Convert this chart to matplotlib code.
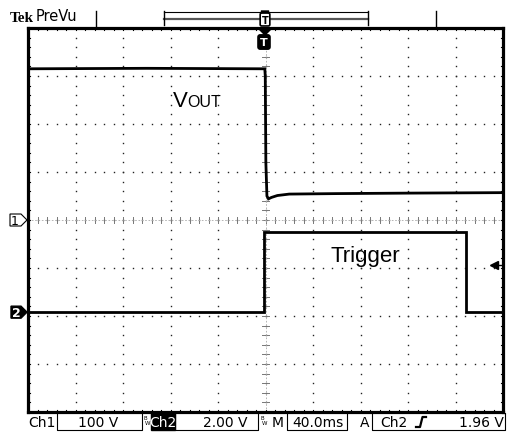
import matplotlib.pyplot as plt
from matplotlib.patches import Polygon, Rectangle
import numpy as np

# Kanał 1 - V_OUT (ms, V)
t_vout = [-200, -100, -0.6, -0.2, 0.3, 1.2, 2.5, 5, 10, 20, 60, 120, 200]
u_vout = [315, 316, 315, 300, 120, 50, 44, 47, 51, 54, 55, 56, 57]

# Kanał 2 - Trigger (ms, V)
t_trig = [-200, -1.2, -1.2, 169, 169, 200]
u_trig = [0, 0, 3.34, 3.34, 0, 0]

# Ustawienia oscyloskopu
ms_div = 40.0
ch1_vdiv, ch1_off = 100.0, 0.0
ch2_vdiv, ch2_off = 2.0, -1.92
trig_lvl = 1.96

# Piksele na działkę (środek ekranu 265.5, 221)
X0, Y0, DX, DY = 265.5, 221.0, 47.5, 48.0


def px(xd, yd):
    return X0 + xd * DX, Y0 - yd * DY


fig = plt.figure(figsize=(5.07, 4.39), dpi=100)
ax = fig.add_axes([28 / 507, 26 / 439, 475 / 507, 384 / 439])
ax.set_xlim(-5, 5)
ax.set_ylim(-4, 4)
ax.set_xticks([])
ax.set_yticks([])
for s in ax.spines.values():
    s.set_linewidth(2.3)

# Siatka z kropek
mx = np.arange(-5, 5.001, 0.2)
my = np.arange(-4, 4.001, 0.2)
for yy in range(-3, 4):
    ax.plot(mx, np.full(len(mx), yy), ls='none', marker='s', ms=1.0, mew=0, color='#222')
for xx in range(-4, 5):
    ax.plot(np.full(len(my), xx), my, ls='none', marker='s', ms=1.0, mew=0, color='#222')

# Osie środkowe z podziałką
for x in mx:
    ax.plot([x, x], [-0.06, 0.06], color='#777', lw=0.7)
    ax.plot([x, x], [-4, -3.95], color='k', lw=0.8)
    ax.plot([x, x], [4, 3.95], color='k', lw=0.8)
for y in my:
    ax.plot([-0.065, 0.065], [y, y], color='#777', lw=0.7)
    ax.plot([-5, -4.95], [y, y], color='k', lw=0.8)
    ax.plot([5, 4.95], [y, y], color='k', lw=0.8)
ax.plot([-5, 5], [0, 0], color='#aaa', lw=0.6, ls=(0, (2, 2)))
ax.plot([0, 0], [-4, 4], color='#aaa', lw=0.6, ls=(0, (2, 2)))

# Przebiegi
x1 = np.array(t_vout) / ms_div
y1 = np.array(u_vout) / ch1_vdiv + ch1_off
x2 = np.array(t_trig) / ms_div
y2 = np.array(u_trig) / ch2_vdiv + ch2_off
ax.plot(x1, y1, color='k', lw=2.0, solid_joinstyle='miter')
ax.plot(x2, y2, color='k', lw=2.0, solid_joinstyle='miter')

# Poziom wyzwalania
lvl = ch2_off + trig_lvl / ch2_vdiv
ax.plot([4.8, 4.97], [lvl, lvl], color='k', lw=1.0)
ax.plot(4.82, lvl, marker='<', ms=6, color='k')

ax.text(-1.94, 2.38, 'V', fontsize=16, family='Liberation Sans', va='baseline')
ax.text(-1.65, 2.38, 'OUT', fontsize=11.5, family='Liberation Sans', va='baseline')
ax.text(1.36, -0.86, 'Trigger', fontsize=16, family='Liberation Sans', va='baseline')

# Nakładka w pikselach
ov = fig.add_axes([0, 0, 1, 1])
ov.set_xlim(0, 507)
ov.set_ylim(439, 0)
ov.axis('off')

# Górny pasek
ov.text(10, 22, 'Tek', fontsize=11, fontweight='bold', family='Liberation Serif', va='baseline')
ov.text(36, 21, 'PreVu', fontsize=10.5, va='baseline')
ov.plot([96, 96], [12, 27], color='k', lw=1)
ov.plot([436, 436], [12, 27], color='k', lw=1)
ov.plot([164, 368], [13, 13], color='k', lw=0.8)
ov.plot([164, 368], [20, 20], color='#555', lw=1.6)
ov.plot([164, 164], [12, 26], color='k', lw=1)
ov.plot([368, 368], [12, 26], color='k', lw=1)
ov.add_patch(Polygon([(261, 12), (269, 12), (265, 15)], color='k'))
ov.text(265, 20.5, 'T', fontsize=7, fontweight='bold', ha='center', va='center',
        bbox=dict(boxstyle='round,pad=0.15', fc='white', ec='k', lw=1.2))
ov.add_patch(Polygon([(258, 29), (272, 29), (265, 36)], color='k'))
ov.text(264, 43, 'T', fontsize=8, fontweight='bold', color='white', ha='center', va='center',
        bbox=dict(boxstyle='round,pad=0.2', fc='k', ec='k'))

# Znaczniki kanałów
_, y1p = px(0, ch1_off)
ov.add_patch(Polygon([(10, y1p - 6), (21, y1p - 6), (27, y1p), (21, y1p + 6), (10, y1p + 6)],
                     fc='white', ec='k', lw=0.8))
ov.text(15, y1p + 0.5, '1', fontsize=9, ha='center', va='center')
_, y2p = px(0, ch2_off)
ov.add_patch(Polygon([(11, y2p - 6), (21, y2p - 6), (27, y2p), (21, y2p + 6), (11, y2p + 6)],
                     fc='k', ec='k'))
ov.text(16, y2p + 0.5, '2', fontsize=9, fontweight='bold', color='white', ha='center', va='center')

# Dolny pasek statusu
yt = 423
fs = 10


def box(x0, x1):
    ov.plot([x0, x0, x1, x1], [414, 431, 431, 414], color='k', lw=0.8)


def bw(x):
    ov.text(x, 418.5, 'B', fontsize=4, ha='center', va='center')
    ov.text(x + 2.5, 424, 'W', fontsize=4, ha='center', va='center')


ov.text(28, yt, 'Ch1', fontsize=fs, va='center')
box(57, 142)
ov.text(98, yt, '100 V', fontsize=fs, ha='center', va='center')
bw(145)
ov.add_patch(Rectangle((151, 414), 24, 17, color='k'))
ov.text(163, yt, 'Ch2', fontsize=fs, color='white', ha='center', va='center')
box(175, 258)
ov.text(225, yt, '2.00 V', fontsize=fs, ha='center', va='center')
bw(262)
ov.text(278, yt, 'M', fontsize=fs, ha='center', va='center')
box(287, 347)
ov.text(318, yt, '40.0ms', fontsize=fs, ha='center', va='center')
ov.text(365, yt, 'A', fontsize=fs, ha='center', va='center')
box(372, 505)
ov.text(394, yt, 'Ch2', fontsize=fs, ha='center', va='center')
ov.plot([416, 420, 422.5, 426], [428, 428, 418, 418], color='k', lw=1.6)
ov.text(504, yt, '1.96 V', fontsize=fs, ha='right', va='center')

fig.savefig('out.png', dpi=100)
